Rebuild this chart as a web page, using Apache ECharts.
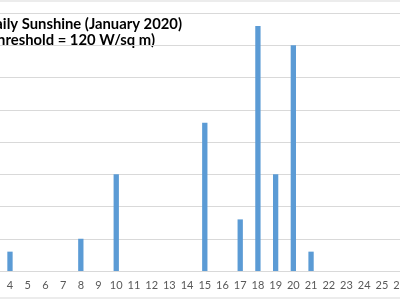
<!DOCTYPE html>
<html>
<head>
<meta charset="utf-8">
<script src="https://cdn.jsdelivr.net/npm/echarts@6/dist/echarts.min.js"></script>
<style>html,body{margin:0;padding:0;background:#fff;}#c{width:400px;height:300px;}</style>
</head>
<body>
<div id="c"></div>
<script>
const days = ['1','2','3','4','5','6','7','8','9','10','11','12','13','14','15','16','17','18','19','20','21','22','23','24','25','26','27','28','29','30','31'];
const sunshine = [0,0,0,0.6,0,0,0,1,0,3,0,0,0,0,4.6,0,1.6,7.6,3,7,0.6,0,0,0,0,0,0,0,0,0,0];
const titleLines = ['Daily Sunshine (January 2020)', '(Threshold = 120 W/sq m)'];

const chart = echarts.init(document.getElementById('c'), null, {renderer: 'canvas'});
chart.setOption({
  animation: false,
  backgroundColor: '#fff',
  grid: {left: -52, right: -97, top: 13, bottom: 29, containLabel: false, outerBoundsMode: 'none'},
  xAxis: {
    type: 'category',
    data: days,
    axisTick: {show: false},
    axisLine: {lineStyle: {color: '#D9D9D9', width: 1}},
    axisLabel: {interval: 0, color: '#595959', fontSize: 11, fontFamily: 'Lato', margin: 9}
  },
  yAxis: {
    type: 'value',
    min: 0, max: 8, interval: 1,
    axisLabel: {show: false},
    axisLine: {show: false},
    axisTick: {show: false},
    splitLine: {lineStyle: {color: '#D9D9D9', width: 1}}
  },
  series: [{
    type: 'bar',
    data: sunshine,
    barWidth: '30%',
    itemStyle: {color: '#5B9BD5'}
  }],
  graphic: [
    {type: 'rect', shape: {x: -60, y: 1, width: 520, height: 297}, style: {fill: 'none', stroke: '#D9D9D9', lineWidth: 1}, silent: true},
    {type: 'text', x: 182, y: 32, style: {text: titleLines[0], font: 'bold 14.8px Lato', fill: '#000', textAlign: 'right', textVerticalAlign: 'bottom'}},
    {type: 'text', x: 155, y: 48, style: {text: titleLines[1], font: 'bold 14.8px Lato', fill: '#000', textAlign: 'right', textVerticalAlign: 'bottom'}}
  ]
});
</script>
</body>
</html>
